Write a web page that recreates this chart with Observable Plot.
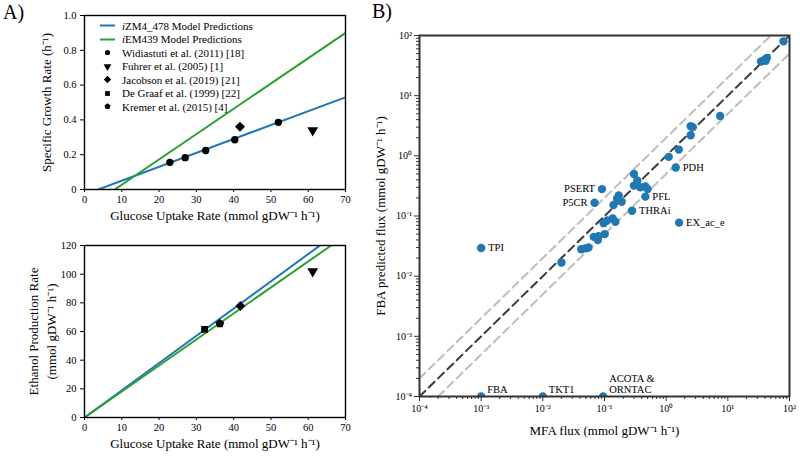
<!DOCTYPE html>
<html><head><meta charset="utf-8">
<script src="https://cdn.jsdelivr.net/npm/d3@7"></script>
<script src="https://cdn.jsdelivr.net/npm/@observablehq/plot@0.6"></script>
<style>
html,body{margin:0;padding:0;background:#fff;}
#root{position:relative;width:800px;height:456px;font-family:"Liberation Serif","Times New Roman",serif;overflow:hidden;color:#000;}
#root svg, #root svg text{font-family:"Liberation Serif","Times New Roman",serif !important;}
.panel{position:absolute;}
.tag{position:absolute;font-size:20px;line-height:1;}
#legend{position:absolute;left:96px;top:19px;font-size:11px;}
#legend .row{display:flex;align-items:center;height:13.5px;white-space:nowrap;}
#legend svg{width:26px;height:13px;display:block;}
</style></head><body><div id="root"></div>
<script>
// ---------- Panel A: specific growth rate ----------
const xTicksA = [0, 10, 20, 30, 40, 50, 60, 70];
const growthTicks = [0, 0.2, 0.4, 0.6, 0.8, 1.0];
const growthTickLabels = ["0", "0.2", "0.4", "0.6", "0.8", "1.0"];
const growthModelGlucoseIZM = [3.7, 70];
const growthModelIZM = [0, 0.53];
const growthModelGlucoseIEM = [8.1, 70];
const growthModelIEM = [0, 0.90];
const widiastutiGlucose = [22.9, 27.0, 32.5, 40.3, 52.0];
const widiastutiGrowth = [0.156, 0.183, 0.224, 0.286, 0.386];
const fuhrerGlucoseGrowth = [61.2];
const fuhrerGrowth = [0.34];
const jacobsonGlucoseGrowth = [41.7];
const jacobsonGrowth = [0.36];

// ---------- Panel A: ethanol production ----------
const ethanolTicks = [0, 20, 40, 60, 80, 100, 120];
const ethanolModelGlucose = [0, 70];
const ethanolModelIZM = [0, 133];
const ethanolModelIEM = [0, 127];
const ethanolObsSource = ["De Graaf", "Kremer", "Jacobson", "Fuhrer"];
const ethanolObsGlucose = [32.2, 36.3, 41.8, 61.2];
const ethanolObs = [61.5, 65.5, 77.8, 102];

// ---------- Legend ----------
const legendLabels = ["ZM4_478 Model Predictions", "EM439 Model Predictions", "Widiastuti et al. (2011) [18]", "Fuhrer et al. (2005) [1]", "Jacobson et al. (2019) [21]", "De Graaf et al. (1999) [22]", "Kremer et al. (2015) [4]"];

// ---------- Panel B: MFA vs FBA ----------
const logMajor = [1e-4, 1e-3, 1e-2, 1e-1, 1, 10, 100];
const logTickLabels = ["10⁻⁴", "10⁻³", "10⁻²", "10⁻¹", "10⁰", "10¹", "10²"];
const mfaFlux = [80, 34.5, 40, 43, 41, 7.5, 2.7, 2.5, 2.5, 1.6, 1.1, 1.43,
  0.30, 0.34, 0.30, 0.38, 0.46, 0.50, 0.46, 0.091, 0.069, 0.17, 0.16, 0.19, 0.14,
  0.28, 1.62, 0.136, 0.15, 0.11, 0.097, 0.101, 0.067, 0.080, 0.078, 0.042, 0.049, 0.055,
  0.020, 0.001, 0.001, 0.01, 0.095];
const fbaFlux = [80, 37, 40, 42.5, 38, 4.6, 3.0, 3.1, 2.2, 1.27, 0.96, 0.64,
  0.50, 0.39, 0.32, 0.30, 0.31, 0.28, 0.21, 0.28, 0.166, 0.22, 0.195, 0.173, 0.152,
  0.122, 0.0776, 0.091, 0.080, 0.084, 0.076, 0.050, 0.045, 0.046, 0.040, 0.028, 0.029, 0.030,
  0.0169, 0.0294, 1e-4, 1e-4, 1e-4];
const reactionLabels = ["", "", "", "", "", "", "", "", "", "", "", "PDH",
  "", "", "", "", "", "", "PFL", "PSERT", "P5CR", "", "", "", "",
  "THRAi", "EX_ac_e", "", "", "", "", "", "", "", "", "", "", "",
  "", "TPI", "FBA", "TKT1", "ACOTA &\nORNTAC"];
const labelsRight = ["PDH", "PFL", "THRAi", "EX_ac_e", "TPI"];
const labelsLeft = ["PSERT", "P5CR"];
const labelsAbove = ["FBA", "TKT1", "ACOTA &\nORNTAC"];
const identityX = [1e-4, 100], identityY = [1e-4, 100];
const upperX = [1e-4, 50], upperY = [2e-4, 100];
const lowerX = [2e-4, 100], lowerY = [1e-4, 50];

// ---------- helpers ----------
const BLUE = "#1f77b4", GREEN = "#2ca02c";
const FONT = "'Liberation Serif', 'Times New Roman', serif";
const zip = (xs, ys) => xs.map((x, i) => ({x, y: ys[i]}));
const triangleDown = {draw(c, size) {
  const y = -Math.sqrt(size / (Math.sqrt(3) * 3)), s = Math.sqrt(3);
  c.moveTo(0, -2 * y); c.lineTo(-s * y, y); c.lineTo(s * y, y); c.closePath();
}};
const pentagon = {draw(c, size) {
  const r = Math.sqrt(size / 2.3776);
  for (let k = 0; k < 5; k++) {
    const a = -Math.PI / 2 + k * 2 * Math.PI / 5;
    k ? c.lineTo(r * Math.cos(a), r * Math.sin(a)) : c.moveTo(r * Math.cos(a), r * Math.sin(a));
  }
  c.closePath();
}};
const sourceSymbol = {"De Graaf": "square", "Kremer": pentagon, "Jacobson": "diamond2", "Fuhrer": triangleDown};
const sourceR = {"De Graaf": 3.8, "Kremer": 4, "Jacobson": 4.5, "Fuhrer": 4};
const style = {fontFamily: FONT, fontSize: "10.5px", background: "transparent", color: "#000", overflow: "visible"};
const xTitle = (t, dy) => Plot.text([t], {text: d => d, frameAnchor: "bottom", dy, lineAnchor: "middle", textAnchor: "middle", fontSize: 13});
const yTitle = (t, dx, extra = {}) => Plot.text([t], {text: d => d, frameAnchor: "left", rotate: -90, dx, textAnchor: "middle", lineAnchor: "middle", fontSize: 13, ...extra});

const root = document.getElementById("root");
function place(node, left, top) {
  node.classList.add("panel");
  node.style.left = left + "px"; node.style.top = top + "px";
  root.appendChild(node);
}

// ---------- Top-left: growth ----------
const growthPlot = Plot.plot({
  width: 350, height: 228, marginLeft: 84, marginRight: 5, marginTop: 15, marginBottom: 39,
  style,
  x: {domain: [0, 70]},
  y: {domain: [0, 1]},
  marks: [
    Plot.axisX({ticks: xTicksA, tickSize: 3, tickPadding: 3, fontSize: 10.5, label: null}),
    Plot.axisY({ticks: growthTicks, tickSize: 4, tickPadding: 4, fontSize: 10.5, label: null,
      tickFormat: d => growthTickLabels[growthTicks.indexOf(d)]}),
    Plot.line(zip(growthModelGlucoseIZM, growthModelIZM), {x: "x", y: "y", stroke: BLUE, strokeWidth: 2, clip: true}),
    Plot.line(zip(growthModelGlucoseIEM, growthModelIEM), {x: "x", y: "y", stroke: GREEN, strokeWidth: 2, clip: true}),
    Plot.dot(zip(widiastutiGlucose, widiastutiGrowth), {x: "x", y: "y", r: 3.7, fill: "#000", symbol: "circle"}),
    Plot.dot(zip(fuhrerGlucoseGrowth, fuhrerGrowth), {x: "x", y: "y", r: 4, fill: "#000", symbol: triangleDown}),
    Plot.dot(zip(jacobsonGlucoseGrowth, jacobsonGrowth), {x: "x", y: "y", r: 4.5, fill: "#000", symbol: "diamond2"}),
    Plot.frame({stroke: "#000", strokeWidth: 1.4}),
    xTitle("Glucose Uptake Rate (mmol gDW⁻¹ h⁻¹)", 26),
    yTitle("Specific Growth Rate (h⁻¹)", -38)
  ]
});
place(growthPlot, 0, 0);

// ---------- Bottom-left: ethanol ----------
const ethanolPlot = Plot.plot({
  width: 350, height: 228, marginLeft: 84, marginRight: 5, marginTop: 17, marginBottom: 39,
  style,
  x: {domain: [0, 70]},
  y: {domain: [0, 120]},
  marks: [
    Plot.axisX({ticks: xTicksA, tickSize: 3, tickPadding: 3, fontSize: 10.5, label: null}),
    Plot.axisY({ticks: ethanolTicks, tickSize: 4, tickPadding: 4, fontSize: 10.5, label: null}),
    Plot.line(zip(ethanolModelGlucose, ethanolModelIZM), {x: "x", y: "y", stroke: BLUE, strokeWidth: 2, clip: true}),
    Plot.line(zip(ethanolModelGlucose, ethanolModelIEM), {x: "x", y: "y", stroke: GREEN, strokeWidth: 2, clip: true}),
    ...ethanolObsSource.map((s, i) =>
      Plot.dot([{x: ethanolObsGlucose[i], y: ethanolObs[i]}], {x: "x", y: "y", r: sourceR[s], fill: "#000", symbol: sourceSymbol[s]})),
    Plot.frame({stroke: "#000", strokeWidth: 1.4}),
    xTitle("Glucose Uptake Rate (mmol gDW⁻¹ h⁻¹)", 26),
    yTitle("Ethanol Production Rate\n(mmol gDW⁻¹ h⁻¹)", -43, {lineHeight: 1.36})
  ]
});
place(ethanolPlot, 0, 228);

// ---------- Right: MFA vs FBA ----------
const logMinor = logMajor.slice(0, -1).flatMap(p => [2, 3, 4, 5, 6, 7, 8, 9].map(m => m * p));
const fluxPoints = mfaFlux.map((x, i) => ({mfa: x, fba: fbaFlux[i], name: reactionLabels[i]}));
const fluxPlot = Plot.plot({
  width: 450, height: 456, marginLeft: 69, marginRight: 11, marginTop: 35, marginBottom: 60,
  style: {...style, fontSize: "10px"},
  x: {type: "log", domain: [1e-4, 100]},
  y: {type: "log", domain: [1e-4, 100]},
  marks: [
    Plot.axisX({ticks: logMajor, tickSize: 5, tickPadding: 3, fontSize: 10, label: null, stroke: "#333",
      tickFormat: d => logTickLabels[logMajor.indexOf(d)]}),
    Plot.axisX({ticks: logMinor, tickSize: 3, tickPadding: 0, label: null, stroke: "#333", tickFormat: () => ""}),
    Plot.axisY({ticks: logMajor, tickSize: 5, tickPadding: 2.5, fontSize: 10, label: null, stroke: "#333",
      tickFormat: d => logTickLabels[logMajor.indexOf(d)]}),
    Plot.axisY({ticks: logMinor, tickSize: 3, tickPadding: 0, label: null, stroke: "#333", tickFormat: () => ""}),
    Plot.line(zip(upperX, upperY), {x: "x", y: "y", stroke: "#bdbdbd", strokeWidth: 2, strokeDasharray: "8,5", clip: true}),
    Plot.line(zip(lowerX, lowerY), {x: "x", y: "y", stroke: "#bdbdbd", strokeWidth: 2, strokeDasharray: "8,5", clip: true}),
    Plot.line(zip(identityX, identityY), {x: "x", y: "y", stroke: "#3a3a3a", strokeWidth: 2, strokeDasharray: "8,5", clip: true}),
    Plot.dot(fluxPoints, {x: "mfa", y: "fba", r: 4.2, fill: BLUE, clip: true}),
    Plot.text(fluxPoints.filter(d => labelsRight.includes(d.name)), {x: "mfa", y: "fba", text: "name", dx: 7, textAnchor: "start", fontSize: 10.5}),
    Plot.text(fluxPoints.filter(d => labelsLeft.includes(d.name)), {x: "mfa", y: "fba", text: "name", dx: -7, textAnchor: "end", fontSize: 10.5}),
    Plot.text(fluxPoints.filter(d => labelsAbove.includes(d.name)), {x: "mfa", y: "fba", text: "name", dx: 6, dy: -4, textAnchor: "start", lineAnchor: "bottom", fontSize: 10.5}),
    Plot.frame({stroke: "#333", strokeWidth: 2}),
    xTitle("MFA flux (mmol gDW⁻¹ h⁻¹)", 34),
    yTitle("FBA predicted flux (mmol gDW⁻¹ h⁻¹)", -39)
  ]
});
place(fluxPlot, 350, 0);

// ---------- Legend (HTML overlay) ----------
const legend = document.createElement("div");
legend.id = "legend";
const swatches = [
  {kind: "line", color: BLUE}, {kind: "line", color: GREEN},
  {kind: "sym", sym: d3.symbolCircle, r: 2.6}, {kind: "sym", sym: triangleDown, r: 2.9},
  {kind: "sym", sym: d3.symbolDiamond2, r: 3.3}, {kind: "sym", sym: d3.symbolSquare, r: 2.7},
  {kind: "sym", sym: pentagon, r: 2.8}
];
legendLabels.forEach((lab, i) => {
  const row = document.createElement("div");
  row.className = "row";
  const sw = swatches[i];
  const svg = d3.create("svg").attr("viewBox", "0 0 26 13");
  if (sw.kind === "line") svg.append("line").attr("x1", 4).attr("x2", 19).attr("y1", 6.5).attr("y2", 6.5).attr("stroke", sw.color).attr("stroke-width", 2);
  else svg.append("path").attr("transform", "translate(11.5,6.5)").attr("d", d3.symbol(sw.sym, sw.r * sw.r * Math.PI)()).attr("fill", "#000");
  row.appendChild(svg.node());
  const span = document.createElement("span");
  if (i < 2) { const it = document.createElement("i"); it.textContent = "i"; span.appendChild(it); }
  span.appendChild(document.createTextNode(lab));
  row.appendChild(span);
  legend.appendChild(row);
});
root.appendChild(legend);

// ---------- Panel tags ----------
[["A)", 3, 2], ["B)", 372, 1]].forEach(([t, l, tp]) => {
  const d = document.createElement("div");
  d.className = "tag"; d.textContent = t;
  d.style.left = l + "px"; d.style.top = tp + "px";
  root.appendChild(d);
});
</script></body></html>
